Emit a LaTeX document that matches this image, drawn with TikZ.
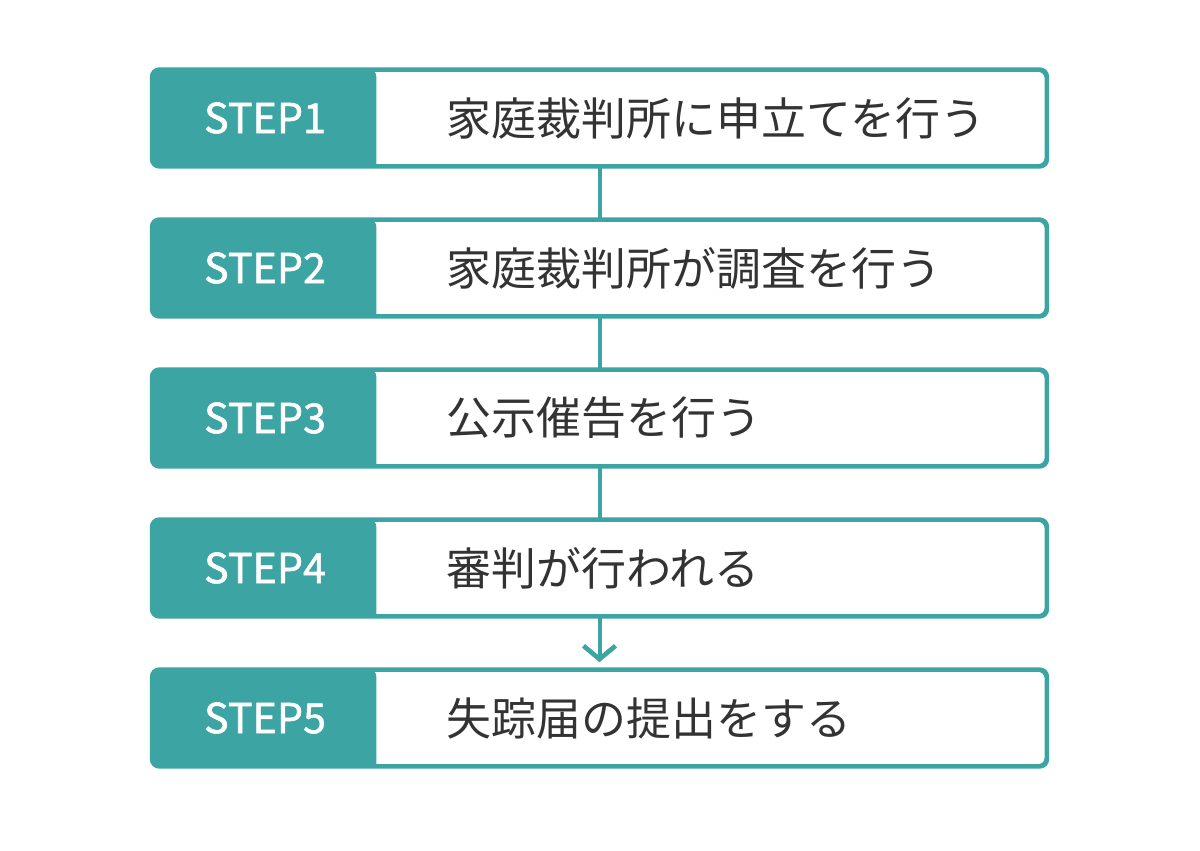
\documentclass[tikz,border=0pt]{standalone}
\usepackage{fontspec}
\setmainfont{Noto Sans CJK JP}
\newfontfamily\stepfont[FakeBold=1.3]{Noto Sans CJK JP}
\usetikzlibrary{arrows.meta,positioning}
\definecolor{tealc}{HTML}{3CA4A2}
\definecolor{textc}{HTML}{333333}
\tikzset{stepbox/.style={draw=tealc, line width=2.25pt, rounded corners=6pt, fill=white, minimum width=670pt, minimum height=71.5pt, inner sep=0pt}}
\tikzset{steptag/.style={fill=tealc}}
\tikzset{steplabel/.style={text=white, font=\stepfont\fontsize{31}{34}\selectfont}}
\tikzset{stepdesc/.style={text=textc, anchor=west, font=\fontsize{33.7}{38}\selectfont}}
\tikzset{link/.style={draw=tealc, line width=3pt}}

\begin{document}
\begin{tikzpicture}[x=0.75pt, y=-0.75pt]
\useasboundingbox (0,0) rectangle (1200,850);

% boxes
\foreach \i/\txt in {1/家庭裁判所に申立てを行う, 2/家庭裁判所が調査を行う, 3/公示催告を行う, 4/審判が行われる, 5/失踪届の提出をする}{
  \node[stepbox] (s\i) at (599.5, {118+150*(\i-1)}) {};
  \fill[steptag] ([xshift=225*0.75pt]s\i.north west) -- ++(0,95)
    [rounded corners=6pt] -- (s\i.south west) -- (s\i.north west) -- cycle;
  \draw[draw=tealc, line width=2.25pt, rounded corners=6pt] (s\i.north west) rectangle (s\i.south east);
  \node[steplabel] (t\i) at (265, {118+150*(\i-1)}) {STEP\i};
  \node[stepdesc] (d\i) at (442, {118+150*(\i-1)}) {\txt};
}

% links
\draw[link] (s1.south) -- (s2.north);
\draw[link] (s2.south) -- (s3.north);
\draw[link] (s3.south) -- (s4.north);
\draw[link, -{Straight Barb[length=10pt, width=24pt, line width=3.5pt]}, shorten >=5pt] (s4.south) -- (s5.north);
\end{tikzpicture}
\end{document}
